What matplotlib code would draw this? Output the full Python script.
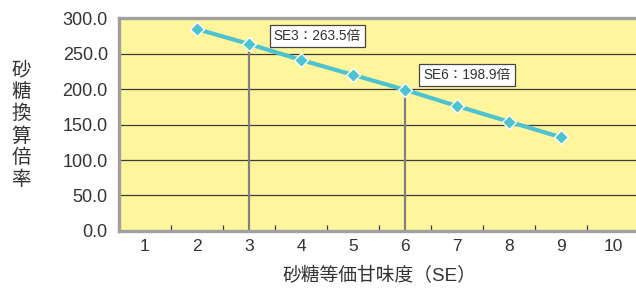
import numpy as np
import matplotlib
matplotlib.use('Agg')
import matplotlib.pyplot as plt

plt.rcParams['font.family'] = ['Liberation Sans', 'Noto Sans CJK JP', 'DejaVu Sans']

# datos
categorias = [1, 2, 3, 4, 5, 6, 7, 8, 9, 10]
se_vals = [2, 3, 4, 5, 6, 7, 8, 9]
ratio_vals = [284.5, 263.5, 241.0, 220.0, 198.9, 176.0, 154.0, 132.0]
marcas = [(3, 263.5, 'SE3：263.5倍'), (6, 198.9, 'SE6：198.9倍')]
y_ticks = [0, 50, 100, 150, 200, 250, 300]

fig = plt.figure(figsize=(6.36, 2.92), dpi=100)
ax = fig.add_axes([0.187, 0.209, 0.818, 0.729])
ax.set_facecolor('#fff59c')

ax.set_xlim(0.5, 10.5)
ax.set_ylim(0, 300)

# lineas de cuadricula horizontales
for v in y_ticks[1:-1]:
    ax.axhline(v, color='#3c3c3c', lw=0.9, zorder=1)

# lineas verticales en SE3 y SE6
for x, y, _ in marcas:
    ax.plot([x, x], [0, y], color='#808080', lw=1.6, zorder=2)

ax.plot(se_vals, ratio_vals, color='#4cc3cf', lw=3, marker='D', ms=7.5,
        mfc='#4cc3cf', mec='white', mew=1.0, zorder=3)

# etiquetas
offsets = [(1.31, 11.5), (1.19, 21)]
for (x, y, txt), (dx, dy) in zip(marcas, offsets):
    ax.text(x + dx, y + dy, txt, ha='center', va='center', fontsize=9.8,
            color='#333333', zorder=4,
            bbox=dict(boxstyle='square,pad=0.3', fc='white', ec='#444444', lw=0.9))

ax.set_xticks(categorias)
ax.set_xticklabels([str(c) for c in categorias], fontsize=12.5, color='#333333')
ax.set_xticks(np.arange(1.5, 10.5, 1), minor=True)
ax.tick_params(axis='x', which='major', length=0, pad=6)
ax.tick_params(axis='x', which='minor', direction='in', length=4, width=0.9, color='#333333')

ax.set_yticks(y_ticks)
ax.set_yticklabels(['%.1f' % v for v in y_ticks], fontsize=13, color='#333333')
ax.tick_params(axis='y', length=0, pad=8)

for s in ['left', 'bottom', 'top']:
    ax.spines[s].set_color('#a0a0a0')
    ax.spines[s].set_linewidth(2.4)
ax.spines['right'].set_visible(False)

ax.set_xlabel('砂糖等価甘味度（SE）', fontsize=13.5, color='#333333', labelpad=9)
fig.text(0.033, 0.57, '\n'.join('砂糖換算倍率'), fontsize=14, color='#333333',
         ha='center', va='center', linespacing=1.25)

fig.savefig('out.png', dpi=100)
